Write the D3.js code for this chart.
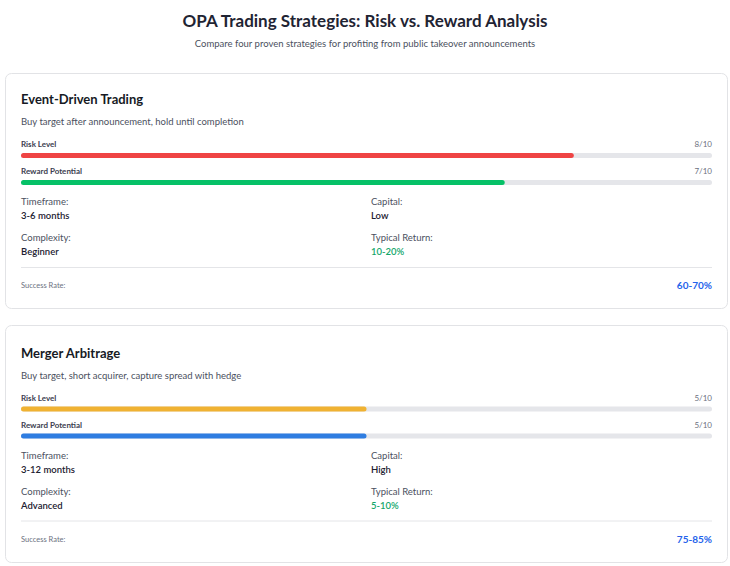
<!DOCTYPE html>
<meta charset="utf-8">
<style>
  body { margin: 0; background: #fff; }
  text { font-family: Lato, "Open Sans", sans-serif; }
</style>

<body>
  <script src="https://d3js.org/d3.v7.min.js"></script>
  <script>

    var strategies = ["Event-Driven Trading", "Merger Arbitrage"];
    var descriptions = ["Buy target after announcement, hold until completion",
      "Buy target, short acquirer, capture spread with hedge"];
    var risk = [8, 5];
    var reward = [7, 5];
    var riskColors = ["#ef4444", "#f0b232"];
    var rewardColors = ["#06c167", "#2f7de1"];
    var timeframes = ["3-6 months", "3-12 months"];
    var capital = ["Low", "High"];
    var complexity = ["Beginner", "Advanced"];
    var typicalReturn = ["10-20%", "5-10%"];
    var successRate = ["60-70%", "75-85%"];

    var width = 730, height = 566;
    var cardX = 5, cardW = 723, cardTops = [73, 325], cardHeights = [235, 237], innerShift = [0, 1.5];
    var padL = 21, padR = 712, col2 = 371;

    var svg = d3.select("body").append("svg")
      .attr("width", width)
      .attr("height", height);

    svg.append("text")
      .attr("x", width / 2).attr("y", 27)
      .attr("text-anchor", "middle")
      .style("font-size", "17px").style("font-weight", "bold").style("fill", "#1f2433")
      .text("OPA Trading Strategies: Risk vs. Reward Analysis");

    svg.append("text")
      .attr("x", width / 2).attr("y", 47)
      .attr("text-anchor", "middle")
      .style("font-size", "9.5px").style("fill", "#4b5060")
      .text("Compare four proven strategies for profiting from public takeover announcements");

    var x = d3.scaleLinear().domain([0, 10]).range([0, padR - padL]);

    var rows = strategies.map(function (name, i) {
      return {
        name: name, desc: descriptions[i], risk: risk[i], reward: reward[i],
        riskColor: riskColors[i], rewardColor: rewardColors[i],
        timeframe: timeframes[i], capital: capital[i], complexity: complexity[i],
        ret: typicalReturn[i], success: successRate[i], idx: i
      };
    });

    var card = svg.selectAll("g.card")
      .data(rows)
      .enter().append("g")
      .attr("class", "card")
      .attr("transform", function (d, i) { return "translate(0," + cardTops[i] + ")"; });

    card.append("rect")
      .attr("x", cardX + 0.5).attr("y", 0.5)
      .attr("width", cardW - 1).attr("height", function (d, i) { return cardHeights[i]; })
      .attr("rx", 6)
      .style("fill", "#fff").style("stroke", "#e2e3e6");

    // contents shifted a touch on the second card
    var body = card.append("g")
      .attr("transform", function (d, i) { return "translate(0," + innerShift[i] + ")"; });

    body.append("text")
      .attr("x", padL).attr("y", 31)
      .style("font-size", "13px").style("font-weight", "bold").style("fill", "#161a24")
      .text(function (d) { return d.name; });

    body.append("text")
      .attr("x", padL).attr("y", 52)
      .style("font-size", "9.5px").style("fill", "#4b5060")
      .text(function (d) { return d.desc; });

    // risk / reward meters
    var meters = [
      { label: "Risk Level", key: "risk", color: "riskColor", y: 74 },
      { label: "Reward Potential", key: "reward", color: "rewardColor", y: 101 }
    ];

    meters.forEach(function (m) {
      body.append("text")
        .attr("x", padL).attr("y", m.y)
        .style("font-size", "8px").style("font-weight", "bold").style("fill", "#3b4050")
        .text(m.label);

      body.append("text")
        .attr("x", padR).attr("y", m.y)
        .attr("text-anchor", "end")
        .style("font-size", "8px").style("fill", "#6b7080")
        .text(function (d) { return d[m.key] + "/10"; });

      body.append("rect")
        .attr("x", padL).attr("y", m.y + 6)
        .attr("width", x(10)).attr("height", 5)
        .attr("rx", 2.5)
        .style("fill", "#e5e6ea");

      body.append("rect")
        .attr("x", padL).attr("y", m.y + 6)
        .attr("width", function (d) { return x(d[m.key]); }).attr("height", 5)
        .attr("rx", 2.5)
        .style("fill", function (d) { return d[m.color]; });
    });

    // detail grid
    var details = [
      { label: "Timeframe:", key: "timeframe", x: padL, y: 132 },
      { label: "Capital:", key: "capital", x: col2, y: 132 },
      { label: "Complexity:", key: "complexity", x: padL, y: 168 },
      { label: "Typical Return:", key: "ret", x: col2, y: 168, color: "#12a66a" }
    ];

    details.forEach(function (f) {
      body.append("text")
        .attr("x", f.x).attr("y", f.y)
        .style("font-size", "9.5px").style("fill", "#4b5060")
        .text(f.label);

      body.append("text")
        .attr("x", f.x).attr("y", f.y + 14)
        .style("font-size", "9.5px").style("font-weight", "600")
        .style("fill", f.color || "#1c2030")
        .text(function (d) { return d[f.key]; });
    });

    body.append("line")
      .attr("x1", padL).attr("x2", padR)
      .attr("y1", 194.5).attr("y2", 194.5)
      .style("stroke", "#e4e5e8");

    body.append("text")
      .attr("x", padL).attr("y", 215)
      .style("font-size", "7.5px").style("fill", "#6b7080")
      .text("Success Rate:");

    body.append("text")
      .attr("x", padR).attr("y", 216)
      .attr("text-anchor", "end")
      .style("font-size", "10px").style("font-weight", "bold").style("fill", "#2563eb")
      .text(function (d) { return d.success; });

  </script>

</body>

</html>
